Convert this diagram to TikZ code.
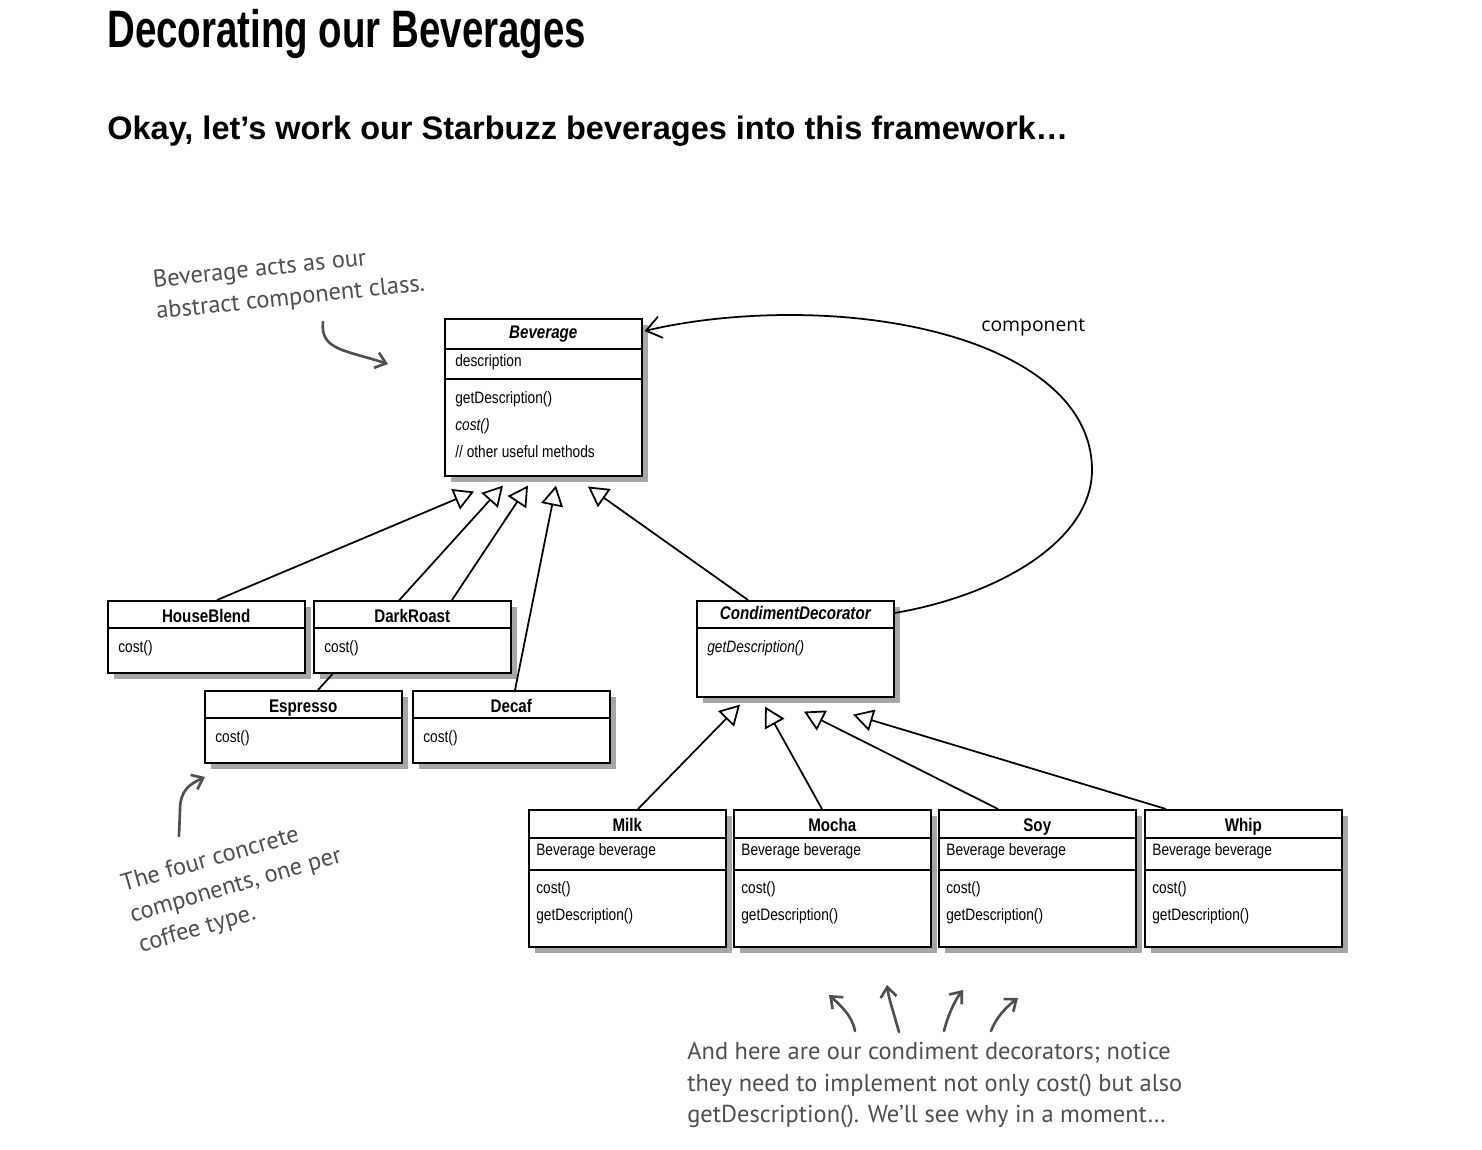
\documentclass[tikz,border=0pt]{standalone}
\usepackage{fontspec}
\setmainfont{Liberation Sans}
\newfontfamily\umlfont{Liberation Sans}[FakeStretch=0.83]
\newfontfamily\handfont{PT Sans}
\newfontfamily\labelfont{Open Sans}
\usetikzlibrary{positioning, arrows.meta, calc, shadows, backgrounds}
\definecolor{handgray}{HTML}{4E4E4E}

\tikzset{
    cls/.style={
        draw,
        fill=white,
        line width=0.9pt,
        anchor=north west,
        minimum width=3.94cm,
        inner sep=0,
        drop shadow={shadow xshift=3.5pt, shadow yshift=-3.5pt, opacity=0.35, fill=black}
    },
    ttl/.style={anchor=base, inner sep=0, font=\umlfont\bfseries\fontsize{10.4}{12}\selectfont},
    ittl/.style={ttl, font=\umlfont\bfseries\itshape\fontsize{10.4}{12}\selectfont},
    mem/.style={anchor=base west, inner sep=0, font=\umlfont\fontsize{9.4}{11}\selectfont},
    imem/.style={mem, font=\umlfont\itshape\fontsize{9.4}{11}\selectfont},
    sepline/.style={line width=0.6pt},
    isa/.style={line width=1pt, -{Triangle[open, length=0.4cm, width=0.44cm]}},
    hand/.style={text=handgray, inner sep=0, align=left, font=\handfont\fontsize{13.9}{18}\selectfont},
    handarrow/.style={draw=handgray, line width=1.5pt, line cap=round, -{Straight Barb[length=2mm, width=3.2mm]}}
}

% separator line across a class box, #2 pixels below its top
\newcommand{\umlsep}[2]{\draw[sepline] ($(#1.north west)+(0,#2)$) -- ($(#1.north east)+(0,#2)$);}

\begin{document}
\begin{tikzpicture}[x=0.02cm, y=-0.02cm]
    \useasboundingbox (0,0) rectangle (1482,1150);

    % headings
    \node[anchor=west, inner sep=0] (title) at (107,34)
        {\scalebox{0.73}[1]{\fontsize{30}{34}\selectfont\bfseries Decorating our Beverages}};
    \node[anchor=west, inner sep=0] (subtitle) at (107,131)
        {\fontsize{18.5}{21}\selectfont\bfseries Okay, let’s work our Starbuzz beverages into this framework\ldots};

    % abstract component
    \node[cls, minimum height=3.14cm] (bev) at (444,318) {};
    \node[ittl] at ($(bev.north)+(0,20)$) {Beverage};
    \umlsep{bev}{31}
    \node[mem] at ($(bev.north west)+(11,48)$) {description};
    \umlsep{bev}{61}
    \node[mem] at ($(bev.north west)+(11,85)$) {getDescription()};
    \node[imem] at ($(bev.north west)+(11,112)$) {cost()};
    \node[mem] at ($(bev.north west)+(11,139)$) {// other useful methods};

    % concrete components
    \node[cls, minimum height=1.44cm] (hb) at (107,600) {};
    \node[cls, minimum height=1.44cm] (dr) at (313,600) {};
    \node[cls, minimum height=1.44cm] (esp) at (204,690) {};
    \node[cls, minimum height=1.44cm] (dec) at (412,690) {};
    \foreach \c/\t in {hb/HouseBlend, dr/DarkRoast, esp/Espresso, dec/Decaf} {
        \node[ttl] at ($(\c.north)+(0,22)$) {\t};
        \umlsep{\c}{28}
        \node[mem] at ($(\c.north west)+(11,52)$) {cost()};
    }

    % decorator
    \node[cls, minimum height=1.92cm] (cd) at (696,600) {};
    \node[ittl] at ($(cd.north)+(0,19)$) {CondimentDecorator};
    \umlsep{cd}{28}
    \node[imem] at ($(cd.north west)+(11,52)$) {getDescription()};

    % condiments
    \node[cls, minimum height=2.74cm] (milk) at (528,809) {};
    \node[cls, minimum height=2.74cm] (mocha) at (733,809) {};
    \node[cls, minimum height=2.74cm] (soy) at (938,809) {};
    \node[cls, minimum height=2.74cm] (whip) at (1144,809) {};
    \foreach \c/\t in {milk/Milk, mocha/Mocha, soy/Soy, whip/Whip} {
        \node[ttl] at ($(\c.north)+(0,22)$) {\t};
        \umlsep{\c}{29}
        \node[mem] at ($(\c.north west)+(8,46)$) {Beverage beverage};
        \umlsep{\c}{61}
        \node[mem] at ($(\c.north west)+(8,84)$) {cost()};
        \node[mem] at ($(\c.north west)+(8,111)$) {getDescription()};
    }

    % inheritance
    \begin{scope}[on background layer]
        \fill[white] (0,0) rectangle (1482,1150);
        \draw[isa] ($(hb.north west)+(110,0)$) -- ($(bev.south west)+(30,15)$);
        \draw[isa] ($(esp.north west)+(114,0)$) -- ($(bev.south west)+(59,9)$);
        \draw[isa] ($(dr.north west)+(139,0)$) -- ($(bev.south west)+(84,9)$);
        \draw[isa] ($(dec.north west)+(103,0)$) -- ($(bev.south west)+(112,9)$);
        \draw[isa] ($(cd.north west)+(52,0)$) -- ($(bev.south west)+(144,10)$);
        \draw[isa] ($(milk.north west)+(110,0)$) -- ($(cd.south west)+(44,7)$);
        \draw[isa] ($(mocha.north west)+(89,0)$) -- ($(cd.south west)+(69,9)$);
        \draw[isa] ($(soy.north west)+(60,0)$) -- ($(cd.south west)+(108,14)$);
        \draw[isa] ($(whip.north west)+(22,0)$) -- ($(cd.south west)+(157,17)$);
    \end{scope}

    % association
    \coordinate (loop) at (1092,470);
    \coordinate (loop top) at (790,315);
    \draw[line width=1pt, -{Straight Barb[length=3mm, width=4.4mm]}]
        ($(cd.north east)+(0,13)$) .. controls (1000,595) and (1092,540) .. (loop)
        .. controls (1092,370) and (950,315) .. (loop top)
        .. controls (720,315) and (670,325) .. ($(bev.north east)+(2,13)$);
    \node[anchor=west, inner sep=0, font=\labelfont\fontsize{11}{13}\selectfont] (complabel) at (981,327) {component};

    % notes
    \node[hand, rotate=6] (note1) at (289,283) {Beverage acts as our\\abstract component class.};
    \draw[handarrow] (323,322) .. controls (320,350) and (345,350) .. (388,364);

    \node[hand, rotate=16] (note2) at (236,886) {The four concrete\\components, one per\\coffee type.};
    \draw[handarrow] (179,836) -- (180,810) .. controls (180,790) and (190,784) .. (205,777);

    \node[hand, anchor=north west] (note3) at (687,1042)
        {And here are our condiment decorators; notice\\they need to implement not only cost() but also\\getDescription(). We’ll see why in a moment\ldots};
    \draw[handarrow] (855,1031) .. controls (852,1015) and (840,1005) .. (829,995);
    \draw[handarrow] (899,1032) .. controls (893,1010) and (889,1000) .. (887,985);
    \draw[handarrow] (944,1031) .. controls (948,1015) and (955,1000) .. (963,990);
    \draw[handarrow] (991,1031) .. controls (996,1018) and (1005,1008) .. (1018,998);
\end{tikzpicture}
\end{document}
